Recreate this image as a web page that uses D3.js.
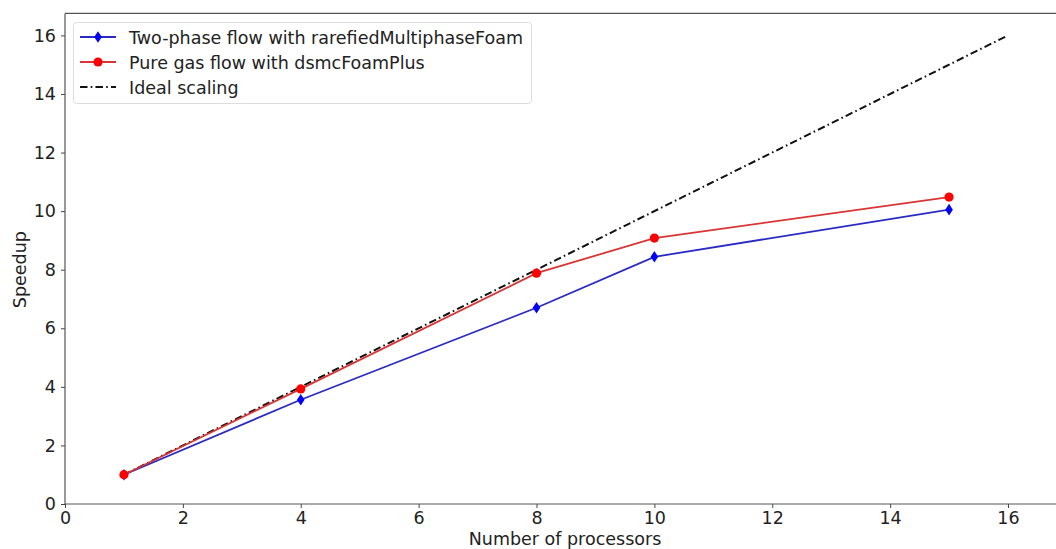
<!DOCTYPE html>
<html>
<head>
<meta charset="utf-8">
<script src="https://cdn.jsdelivr.net/npm/d3@7"></script>
<style>
  html, body { margin: 0; padding: 0; background: #fff; }
  svg { display: block; }
  text { font-family: "DejaVu Sans", sans-serif; fill: #222; }
</style>
</head>
<body>
<svg id="chart" width="1056" height="549"></svg>
<script>
const processors = [1, 4, 8, 10, 15];
const twoPhase = [1.0, 3.56, 6.70, 8.44, 10.05];
const pureGas = [1.0, 3.93, 7.88, 9.08, 10.48];
const idealX = [1, 16];
const idealY = [1, 16];
const xTicks = [0, 2, 4, 6, 8, 10, 12, 14, 16];
const yTicks = [0, 2, 4, 6, 8, 10, 12, 14, 16];
const legendLabels = ["Two-phase flow with rarefiedMultiphaseFoam", "Pure gas flow with dsmcFoamPlus", "Ideal scaling"];

const svg = d3.select("#chart");
const mLeft = 65, mBottom = 504, mTop = 13.4;
const x = d3.scaleLinear().domain([0, 16]).range([mLeft, 1008]);
const y = d3.scaleLinear().domain([0, 16]).range([mBottom, 35.4]);
const xMaxPix = 1065;
const fs = "17.5px";

// axes
const xAxis = d3.axisBottom(x).tickValues(xTicks).tickFormat(d3.format("d")).tickSize(4).tickPadding(4);
const yAxis = d3.axisLeft(y).tickValues(yTicks).tickFormat(d3.format("d")).tickSize(4).tickPadding(5);

const gx = svg.append("g").attr("transform", `translate(0,${mBottom})`).call(xAxis);
gx.select(".domain").remove();
gx.selectAll("text").style("font-size", fs).attr("fill", "#222");
gx.selectAll("line").attr("stroke", "#444");
const gy = svg.append("g").attr("transform", `translate(${mLeft},0)`).call(yAxis);
gy.select(".domain").remove();
gy.selectAll("text").style("font-size", fs).attr("fill", "#222");
gy.selectAll("line").attr("stroke", "#444");

// spines
svg.append("line").attr("x1", mLeft).attr("x2", xMaxPix).attr("y1", mBottom).attr("y2", mBottom).attr("stroke", "#555").attr("stroke-width", 1.2);
svg.append("line").attr("x1", mLeft).attr("x2", xMaxPix).attr("y1", mTop).attr("y2", mTop).attr("stroke", "#555").attr("stroke-width", 1.2);
svg.append("line").attr("x1", mLeft).attr("x2", mLeft).attr("y1", mTop).attr("y2", mBottom).attr("stroke", "#555").attr("stroke-width", 1.2);

// axis labels (centred on the axes box, which extends past the right edge)
svg.append("text").attr("x", (mLeft + xMaxPix) / 2).attr("y", 545).attr("text-anchor", "middle").style("font-size", fs).text("Number of processors");
svg.append("text").attr("transform", `translate(26,${y(8)}) rotate(-90)`).attr("text-anchor", "middle").style("font-size", fs).text("Speedup");

const line = d3.line().x(d => x(d[0])).y(d => y(d[1]));
const dash = "7.5,3.2,1.6,3.2";

// ideal
svg.append("path").datum(d3.zip(idealX, idealY)).attr("d", line).attr("fill", "none")
  .attr("stroke", "#111").attr("stroke-width", 2).attr("stroke-dasharray", dash);

const blueLine = "#2a2ac4", blueMark = "#0000ff";
const redLine = "#d93535", redMark = "#ff0000";

// two-phase
svg.append("path").datum(d3.zip(processors, twoPhase)).attr("d", line).attr("fill", "none")
  .attr("stroke", blueLine).attr("stroke-width", 1.8);
// pure gas
svg.append("path").datum(d3.zip(processors, pureGas)).attr("d", line).attr("fill", "none")
  .attr("stroke", redLine).attr("stroke-width", 1.8);

function diamond(g, cx, cy) {
  g.append("path").attr("d", `M${cx},${cy-5.8}L${cx+3.8},${cy}L${cx},${cy+5.8}L${cx-3.8},${cy}Z`).attr("fill", blueMark);
}
function circle(g, cx, cy) {
  g.append("circle").attr("cx", cx).attr("cy", cy).attr("r", 4.6).attr("fill", redMark);
}
const mk = svg.append("g");
processors.forEach((p, i) => diamond(mk, x(p), y(twoPhase[i])));
processors.forEach((p, i) => circle(mk, x(p), y(pureGas[i])));

// legend
const lg = svg.append("g");
lg.append("rect").attr("x", 73.5).attr("y", 22.5).attr("width", 458).attr("height", 81).attr("rx", 3)
  .attr("fill", "#fff").attr("fill-opacity", 0.8).attr("stroke", "#ddd").attr("stroke-width", 1);
const rows = [37, 62, 87];
lg.append("line").attr("x1", 80).attr("x2", 116).attr("y1", rows[0]).attr("y2", rows[0]).attr("stroke", blueLine).attr("stroke-width", 1.8);
diamond(lg, 98, rows[0]);
lg.append("line").attr("x1", 80).attr("x2", 116).attr("y1", rows[1]).attr("y2", rows[1]).attr("stroke", redLine).attr("stroke-width", 1.8);
circle(lg, 98, rows[1]);
lg.append("line").attr("x1", 80).attr("x2", 116).attr("y1", rows[2]).attr("y2", rows[2]).attr("stroke", "#111").attr("stroke-width", 2).attr("stroke-dasharray", dash);
legendLabels.forEach((t, i) => {
  lg.append("text").attr("x", 129).attr("y", rows[i] + 6.5).style("font-size", fs).text(t);
});
</script>
</body>
</html>
